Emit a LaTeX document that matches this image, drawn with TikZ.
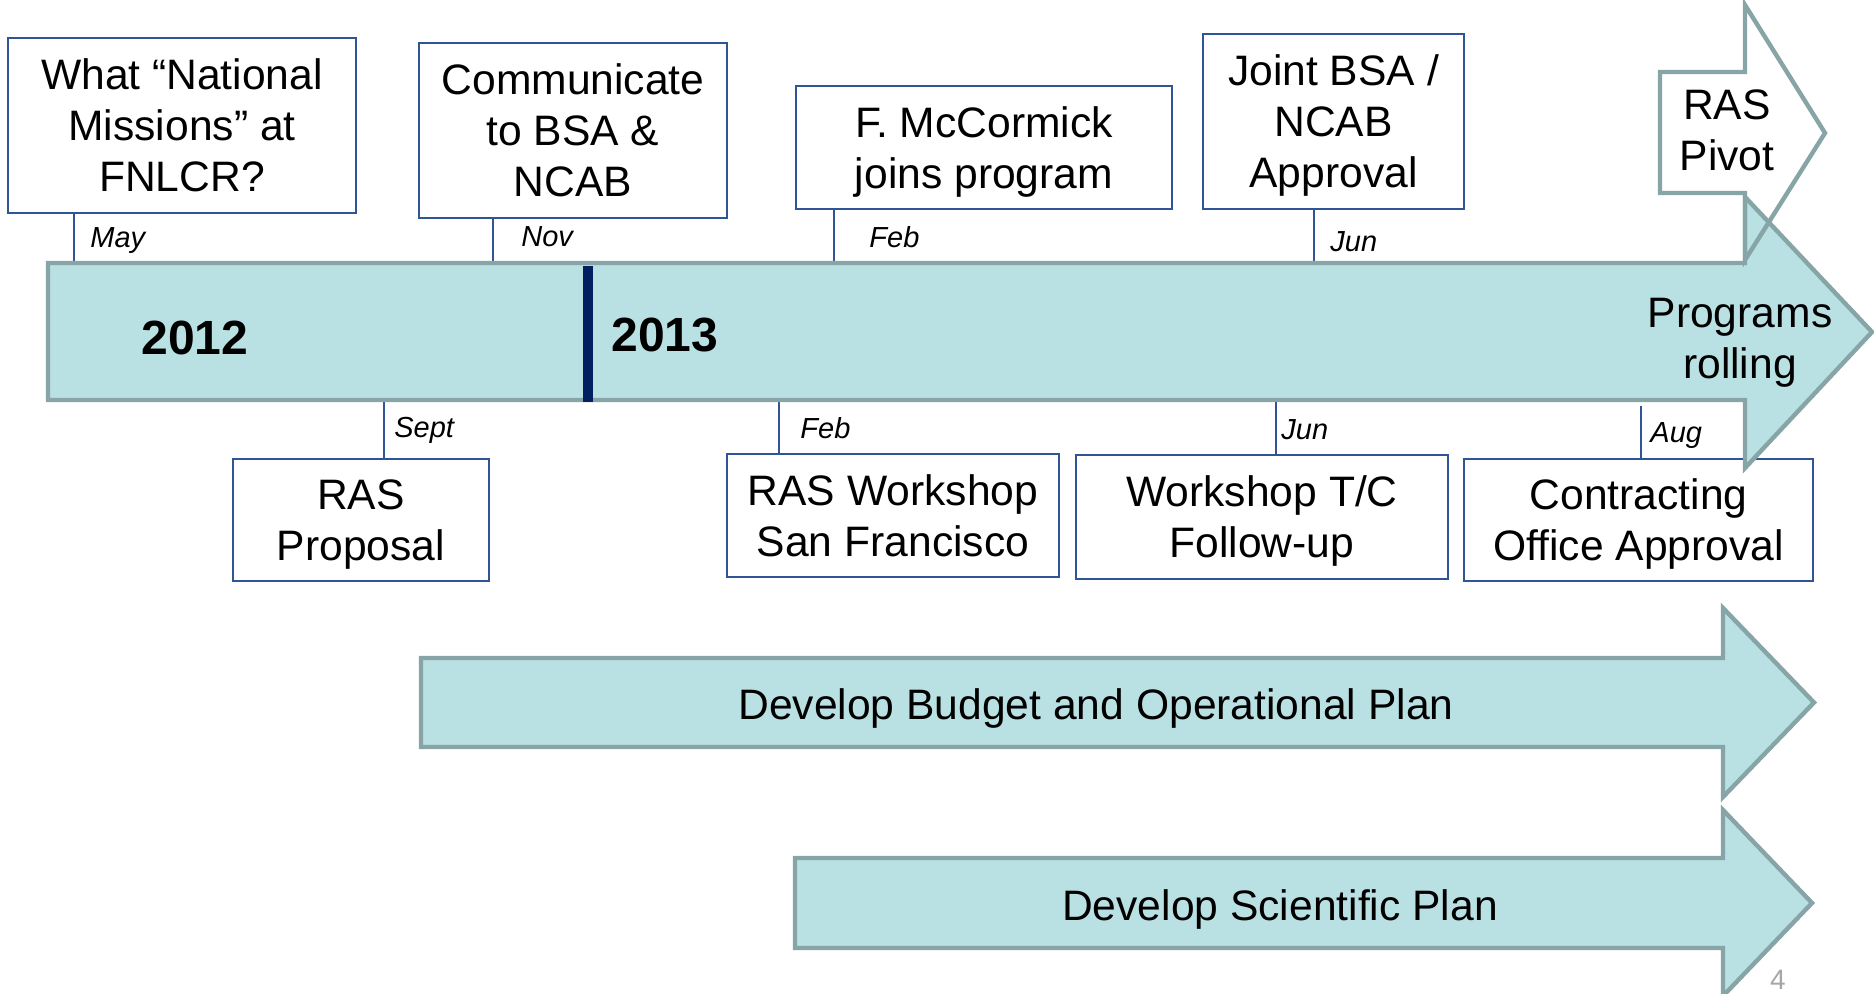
\documentclass[tikz,border=0pt]{standalone}
\usepackage{fontspec}
\setmainfont{Liberation Sans}
\definecolor{boxblue}{RGB}{47,85,151}
\definecolor{bandfill}{RGB}{185,224,227}
\definecolor{bandline}{RGB}{135,164,166}
\definecolor{divider}{RGB}{0,32,96}
\definecolor{pagegray}{RGB}{166,166,166}
\begin{document}
\begin{tikzpicture}[x=0.5pt,y=-0.5pt,
  evbox/.style={draw=boxblue, line width=1pt, fill=white, align=center,
    inner sep=0pt, text depth=0pt, font=\fontsize{21.3}{25.5}\selectfont},
  tick/.style={draw=boxblue, line width=0.8pt},
  month/.style={anchor=west, inner sep=0pt, text depth=0pt,
    font=\fontsize{14.5}{17}\selectfont\itshape},
  band/.style={fill=bandfill, draw=bandline, line width=2.2pt, line join=miter},
  year/.style={inner sep=0pt, font=\fontsize{24}{28}\selectfont\bfseries},
  bandtext/.style={align=center, inner sep=0pt, text depth=0pt,
    font=\fontsize{21.3}{25.5}\selectfont}]
\useasboundingbox (0,0) rectangle (1874,994);

% points on the timeline where the events sit
\coordinate (tMay)  at (74,264);
\coordinate (tNov)  at (493,266);
\coordinate (tFeb)  at (834,263);
\coordinate (tJun)  at (1314,263);
\coordinate (tSep)  at (384,402);
\coordinate (tFebB) at (779,402);
\coordinate (tJunB) at (1276,402);
\coordinate (tAug)  at (1641,406);

% event boxes above the timeline
\node[evbox, minimum width=174pt, minimum height=87.5pt] (b1) at (182,125.5)
  {What “National\\Missions” at\\FNLCR?};
\node[evbox, minimum width=154pt, minimum height=87.5pt] (b2) at (573,130.5)
  {Communicate\\to BSA \&\\NCAB};
\node[evbox, minimum width=188pt, minimum height=61.5pt] (b3) at (984,147.5)
  {F. McCormick\\joins program};
\node[evbox, minimum width=130.5pt, minimum height=87.5pt] (b4) at (1333.5,121.5)
  {Joint BSA /\\NCAB\\Approval};

% event boxes below the timeline
\node[evbox, minimum width=128pt, minimum height=61pt] (b5) at (361,520)
  {RAS\\Proposal};
\node[evbox, minimum width=166pt, minimum height=61.5pt] (b6) at (893,515.5)
  {RAS Workshop\\San Francisco};
\node[evbox, minimum width=186pt, minimum height=62pt] (b7) at (1262,517)
  {Workshop T/C\\Follow-up};
\node[evbox, minimum width=174.5pt, minimum height=61pt] (b8) at (1638.5,520)
  {Contracting\\Office Approval};

% leader lines
\draw[tick] (b1.south -| tMay) -- (tMay);
\draw[tick] (b2.south -| tNov) -- (tNov);
\draw[tick] (b3.south -| tFeb) -- (tFeb);
\draw[tick] (b4.south -| tJun) -- (tJun);
\draw[tick] (tSep) -- (b5.north -| tSep);
\draw[tick] (tFebB) -- (b6.north -| tFebB);
\draw[tick] (tJunB) -- (b7.north -| tJunB);
\draw[tick] (tAug) -- (b8.north -| tAug);

% month labels
\node[month] (mMay)  at (90,238)   {May};
\node[month] (mNov)  at (521,237)  {Nov};
\node[month] (mFeb)  at (869,237)  {Feb};
\node[month] (mJun)  at (1330,242) {Jun};
\node[month] (mSep)  at (394,427)  {Sept};
\node[month] (mFebB) at (800,428)  {Feb};
\node[month] (mJunB) at (1281,430) {Jun};
\node[month] (mAug)  at (1650,433) {Aug};

% "RAS Pivot" arrow: white body under the main band
\path[fill=white] (1660,72) -- (1745,72) -- (1745,5) -- (1825,133)
  -- (1745,260) -- (1745,193) -- (1660,193) -- cycle;

% main timeline band
\draw[band] (48,263) -- (1745,263) -- (1745,197) -- (1872,332)
  -- (1745,468) -- (1745,400) -- (48,400) -- cycle;

% outline of the "RAS Pivot" arrow over the band
\draw[draw=bandline, line width=2.2pt, line join=miter]
  (1660,72) -- (1745,72) -- (1745,5) -- (1825,133)
  -- (1745,260) -- (1745,193) -- (1660,193) -- cycle;

% year divider
\fill[divider] (583,266) rectangle (593,402);

\node[year] (y12) at (195,338) {2012};
\node[year] (y13) at (665,335) {2013};
\node[bandtext] (roll) at (1740,338) {Programs\\rolling};
\node[bandtext] (pivot) at (1727,130) {RAS\\Pivot};

% parallel planning tracks
\draw[band] (421,658) -- (1723,658) -- (1723,608) -- (1814,702.5)
  -- (1723,797) -- (1723,747) -- (421,747) -- cycle;
\node[bandtext] (budget) at (1096,704) {Develop Budget and Operational Plan};

\draw[band] (795,858) -- (1723,858) -- (1723,810) -- (1812,903)
  -- (1723,996) -- (1723,948) -- (795,948) -- cycle;
\node[bandtext] (sci) at (1280,905) {Develop Scientific Plan};

% page number
\node[text=pagegray, inner sep=0pt, anchor=base, font=\fontsize{14}{16}\selectfont]
  (pg) at (1778,989) {4};
\end{tikzpicture}
\end{document}
